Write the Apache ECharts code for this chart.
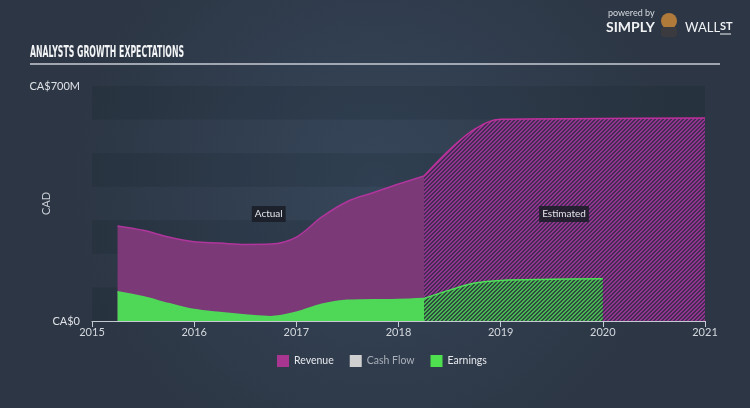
<!DOCTYPE html>
<html><head><meta charset="utf-8">
<script src="https://cdn.jsdelivr.net/npm/echarts@6/dist/echarts.min.js"></script>
<style>html,body{margin:0;padding:0;}#c{width:750px;height:408px;}</style>
</head><body><div id="c"></div>
<script>
// ---- data ----
const revenueActualT = [2015.25,2015.5,2015.75,2016.0,2016.25,2016.5,2016.75,2017.0,2017.25,2017.5,2017.75,2018.0,2018.25];
const revenueActualV = [283,270,250,236,232,228,229,250,310,356,382,408,432];
const revenueEstT = [2018.25,2018.5,2018.75,2019.0,2020.0,2021.0];
const revenueEstV = [432,510,572,601,603,605];
const earningsActualT = [2015.25,2015.5,2015.75,2016.0,2016.25,2016.5,2016.75,2017.0,2017.25,2017.5,2017.75,2018.0,2018.25];
const earningsActualV = [87,72,52,34,25,18,13,26,50,62,63,64,67];
const earningsEstT = [2018.25,2018.5,2018.75,2019.0,2019.5,2020.0];
const earningsEstV = [67,92,113,121,124,126];
const legendNames = ['Revenue','Cash Flow','Earnings'];
const yTickLabels = {0:'CA$0',700:'CA$700M'};
const phaseLabels = [{text:'Actual',t:2016.73,v:319},{text:'Estimated',t:2019.62,v:319}];

const zip=(a,b)=>a.map((x,i)=>[x,b[i]]);

function hatch(bg, fg){
  const c=document.createElement('canvas'); c.width=4; c.height=4;
  const ctx=c.getContext('2d'); ctx.fillStyle=bg; ctx.fillRect(0,0,4,4);
  ctx.fillStyle=fg;
  for(let i=0;i<4;i++){ ctx.fillRect(i,3-i,1,1); ctx.fillRect((i+1)%4,3-i,1,1); }
  return c;
}
const revHatch = {image: hatch('#432b55','#93358e'), repeat:'repeat'};
const earnHatch = {image: hatch('#2f4a3f','#47b852'), repeat:'repeat'};

const FONT='Lato, "Noto Sans", sans-serif';
const TFONT='bold 16px "DejaVu Sans Condensed", "DejaVu Sans", sans-serif';
const chart = echarts.init(document.getElementById('c'), null, {renderer:'canvas'});

const mc=document.createElement('canvas').getContext('2d');
mc.font=TFONT;
const titleText='ANALYSTS GROWTH EXPECTATIONS';
const tw=mc.measureText(titleText).width;
const titleScale=154/tw;

const option = {
  backgroundColor: {type:'radial', x:0.5, y:0.45, r:0.75, colorStops:[{offset:0,color:'#36465a'},{offset:1,color:'#2c3644'}]},
  animation:false,
  textStyle:{fontFamily:FONT},
  grid:{left:92,right:45,top:86,bottom:87,containLabel:false},
  legend:{
    left:272, top:350, itemWidth:12, itemHeight:12, itemGap:16, icon:'rect',
    textStyle:{color:'#e6e8ec',fontSize:10.5,fontFamily:FONT},
    data:[{name:'Revenue'},{name:'Cash Flow',textStyle:{color:'#a9afb8'}},{name:'Earnings'}],
    selectedMode:false
  },
  xAxis:{
    type:'value', min:2015, max:2021, interval:1,
    axisLine:{lineStyle:{color:'#c5cad2',width:1}},
    axisTick:{show:true,length:6,lineStyle:{color:'#c5cad2'}},
    axisLabel:{color:'#d4d8de',fontSize:11,margin:6,formatter:v=>String(v)},
    splitLine:{show:false}
  },
  yAxis:{
    type:'value', min:0, max:700, interval:100,
    name:'CAD', nameLocation:'middle', nameGap:40, nameRotate:90, nameMoveOverlap:false,
    nameTextStyle:{color:'#c9ced6',fontSize:11},
    axisLine:{show:false}, axisTick:{show:false},
    axisLabel:{color:'#dfe2e7',fontSize:11,margin:12,formatter:v=>yTickLabels[v]||''},
    splitLine:{show:false},
    splitArea:{show:true,areaStyle:{color:['rgba(20,28,40,0.16)','rgba(0,0,0,0)']}}
  },
  series:[
    {name:'Revenue',type:'line',smooth:0.35,showSymbol:false,
     data:zip(revenueActualT,revenueActualV),
     itemStyle:{color:'#a8358f'},
     lineStyle:{color:'#b0359c',width:1.5},
     areaStyle:{color:'#7b3a77',opacity:1}},
    {name:'Revenue',type:'line',smooth:0.35,showSymbol:false,
     data:zip(revenueEstT,revenueEstV),
     itemStyle:{color:'#a8358f'},
     lineStyle:{color:'#c0309c',width:1.5},
     areaStyle:{color:revHatch,opacity:1}},
    {name:'Cash Flow',type:'line',data:[],itemStyle:{color:'#d0d0d0'}},
    {name:'Earnings',type:'line',smooth:0.35,showSymbol:false,
     data:zip(earningsActualT,earningsActualV),
     itemStyle:{color:'#4ee04e'},
     lineStyle:{color:'#4fd858',width:1.5},
     areaStyle:{color:'#4fd858',opacity:1}},
    {name:'Earnings',type:'line',smooth:0.35,showSymbol:false,
     data:zip(earningsEstT,earningsEstV),
     itemStyle:{color:'#4ee04e'},
     lineStyle:{color:'#4fe05a',width:1.5},
     areaStyle:{color:earnHatch,opacity:1}}
  ]
};
chart.setOption(option);

const g=[
  {type:'text',left:30,top:45,scaleX:titleScale,style:{text:titleText,fill:'#f2f4f6',font:TFONT}},
  {type:'line',shape:{x1:30,y1:64,x2:720,y2:64},style:{stroke:'#c8cdd4',lineWidth:1.5}},
  {type:'text',left:608,top:9,style:{text:'powered by',fill:'#d8dbe0',font:'9px '+FONT}},
  {type:'text',left:606,top:20,style:{text:'SIMPLY',fill:'#f0f2f4',font:'bold 14px '+FONT}},
  {type:'circle',shape:{cx:669,cy:21,r:8},style:{fill:'#b07a3a'}},
  {type:'rect',shape:{x:661,y:27,width:16,height:10,r:3},style:{fill:'#3b3b3f'}},
  {type:'text',left:685,top:21,style:{text:'WALL',fill:'#f0f2f4',font:'13px '+FONT}},
  {type:'text',left:720,top:21,style:{text:'ST',fill:'#f0f2f4',font:'bold 11px '+FONT}},
  {type:'line',shape:{x1:720,y1:34,x2:731,y2:34},style:{stroke:'#f0f2f4',lineWidth:1}}
];
phaseLabels.forEach(p=>{
  const pt=chart.convertToPixel({gridIndex:0},[p.t,p.v]);
  g.push({type:'text',x:pt[0],y:pt[1],z:100,style:{text:p.text,fill:'#e4e6ea',font:'10px '+FONT,
    align:'center',verticalAlign:'middle',backgroundColor:'rgba(25,28,38,0.85)',padding:[3,3,3,3]}});
});
chart.setOption({graphic:g});
</script></body></html>
